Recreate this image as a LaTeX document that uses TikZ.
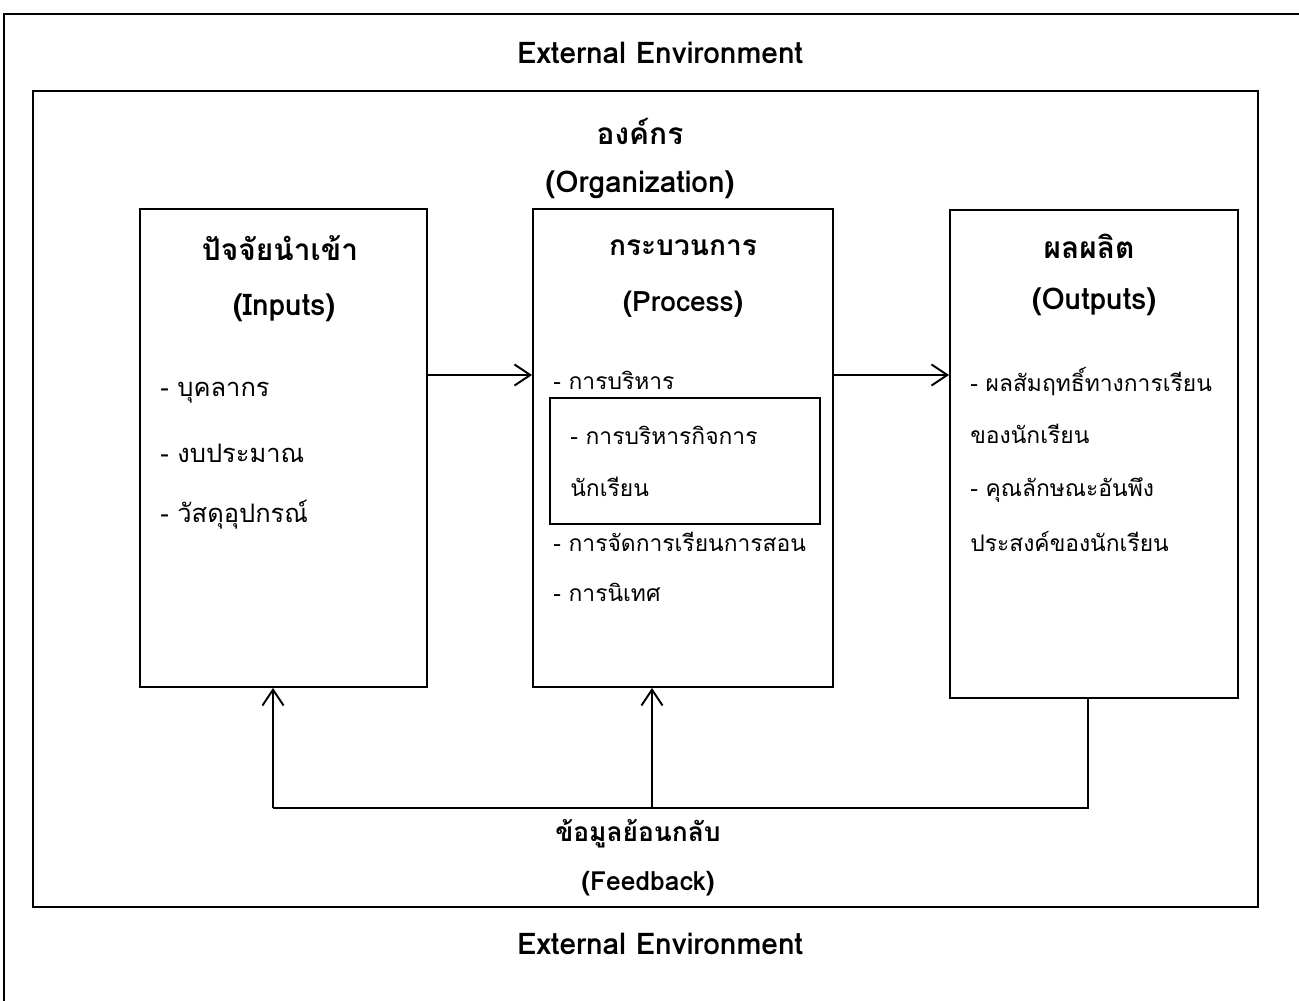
\documentclass[tikz,border=0pt]{standalone}
\usepackage{fontspec}
\setmainfont[Script=Thai]{Loma}
\usetikzlibrary{arrows.meta}
\tikzset{
  box/.style={draw, line width=1.1pt, inner sep=0pt},
  head/.style={font=\bfseries\fontsize{17}{19}\selectfont, anchor=center},
  fbhead/.style={font=\bfseries\fontsize{15}{17}\selectfont, anchor=center},
  item/.style={font=\fontsize{13}{15}\selectfont, anchor=west, inner sep=0pt},
  bigitem/.style={item, font=\fontsize{14.5}{16}\selectfont},
  link/.style={-{Straight Barb[length=9pt,width=12pt]}, line width=1.1pt},
}
\begin{document}
\begin{tikzpicture}[x=0.02cm,y=-0.02cm]
  \useasboundingbox (0,0) rectangle (1299,1001);
  % outer frame, cut by the page
  \draw[line width=1.2pt] (4,1001) |- (1299,14);
  \node[box, minimum width=24.5cm, minimum height=16.32cm] (org) at (645.5,499) {};
  \node[head] (envtop) at (660,53) {External Environment};
  \node[head] (envbot) at (660,944) {External Environment};
  \node[head] (orgth) at (640,131) {องค์กร};
  \node[head] (orgen) at (640,185) {(Organization)};

  % three blocks
  \node[box, minimum width=5.74cm, minimum height=9.56cm] (inp) at (283.5,448) {};
  \node[box, minimum width=6cm, minimum height=9.56cm] (proc) at (683,448) {};
  \node[box, minimum width=5.76cm, minimum height=9.76cm] (outp) at (1094,454) {};
  \node[box, minimum width=5.4cm, minimum height=2.52cm] (sub) at (685,461) {};

  % inputs
  \node[head] (inpth) at (280,248) {ปัจจัยนำเข้า};
  \node[head] (inpen) at (284,308) {(Inputs)};
  \node[bigitem] (i1) at (160,393) {- บุคลากร};
  \node[bigitem] (i2) at (160,453) {- งบประมาณ};
  \node[bigitem] (i3) at (160,515) {- วัสดุอุปกรณ์};

  % process
  \node[head, font=\bfseries\fontsize{16}{18}\selectfont] (procth) at (683,248) {กระบวนการ};
  \node[head, font=\bfseries\fontsize{16}{18}\selectfont] (procen) at (683,304) {(Process)};
  \node[item] (p1) at (553,380) {- การบริหาร};
  \node[item] (p2) at (570,435) {- การบริหารกิจการ};
  \node[item] (p3) at (570,487) {นักเรียน};
  \node[item] (p4) at (553,542) {- การจัดการเรียนการสอน};
  \node[item] (p5) at (553,592) {- การนิเทศ};

  % outputs
  \node[head] (outth) at (1089,246) {ผลผลิต};
  \node[head] (outen) at (1094,302) {(Outputs)};
  \node[item] (o1) at (970,382) {- ผลสัมฤทธิ์ทางการเรียน};
  \node[item] (o2) at (970,434) {ของนักเรียน};
  \node[item] (o3) at (970,490) {- คุณลักษณะอันพึง};
  \node[item] (o4) at (970,542) {ประสงค์ของนักเรียน};

  % feedback
  \coordinate (fbL) at (273,808);
  \coordinate (fbM) at (652,808);
  \coordinate (fbR) at (1088,808);
  \node[fbhead] (fbth) at (638,834) {ข้อมูลย้อนกลับ};
  \node[fbhead] (fben) at (648,884) {(Feedback)};

  \draw[link] (inp.east |- 0,375) -- (proc.west |- 0,375);
  \draw[link] (proc.east |- 0,375) -- (outp.west |- 0,375);
  \draw[line width=0.6pt] (outp.south -| fbR) -- (fbR) -- (fbL);
  \draw[link] (fbL) -- (fbL |- inp.south);
  \draw[link] (fbM) -- (fbM |- proc.south);
\end{tikzpicture}
\end{document}
